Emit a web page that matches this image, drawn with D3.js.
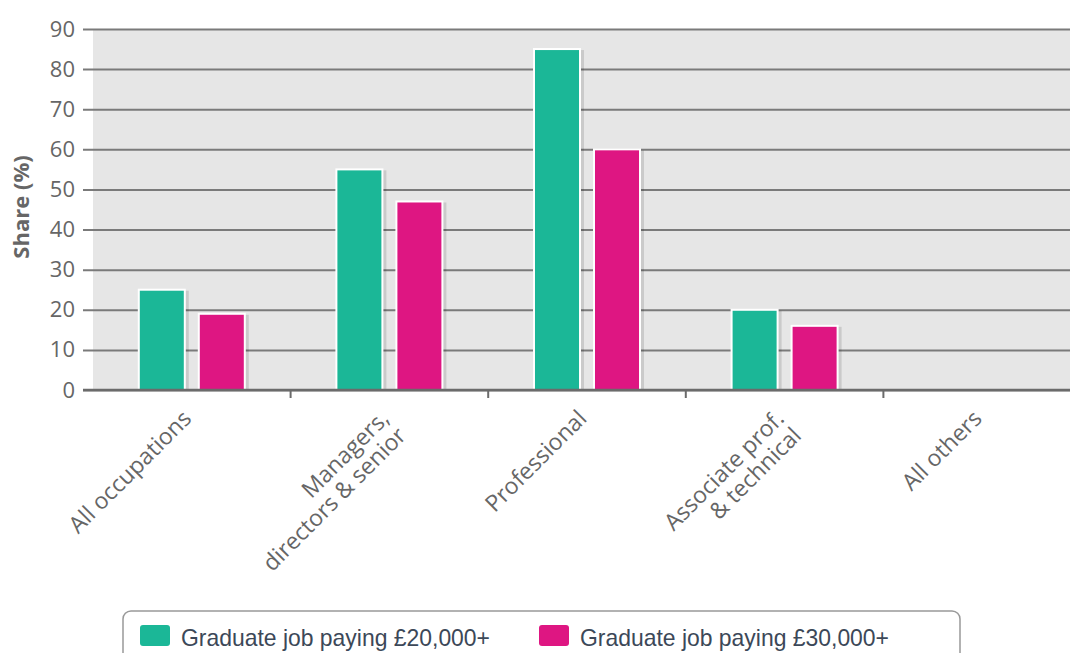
<!DOCTYPE html>
<html>
<head>
<meta charset="utf-8">
<script src="https://cdn.jsdelivr.net/npm/d3@7"></script>
<style>
  body { margin: 0; background: #fff; }
  svg { display: block; }
</style>
</head>
<body>
<div id="chart"></div>
<script>
// values
var categories = ["All occupations", "Managers,\ndirectors & senior", "Professional", "Associate prof.\n& technical", "All others"];
var seriesNames = ["Graduate job paying £20,000+", "Graduate job paying £30,000+"];
var paying20k = [25, 55, 85, 20, null];
var paying30k = [19, 47, 60, 16, null];
var yTicks = [0, 10, 20, 30, 40, 50, 60, 70, 80, 90];
var colors = ["#1bb797", "#de1682"];

var W = 1070, H = 653;
var plot = {left: 93, right: 1081, top: 29, bottom: 390};

var svg = d3.select("#chart").append("svg")
    .attr("width", W).attr("height", H);

var x = d3.scaleBand().domain(categories).range([plot.left, plot.right]);
var y = d3.scaleLinear().domain([0, 90]).range([plot.bottom, plot.top]);

// background
svg.append("rect")
    .attr("x", plot.left).attr("y", plot.top)
    .attr("width", W - plot.left).attr("height", plot.bottom - plot.top)
    .attr("fill", "#e6e6e6");

// gridlines + y labels
var yAxis = d3.axisLeft(y).tickValues(yTicks).tickSize(0).tickPadding(8);
var gy = svg.append("g")
    .attr("transform", "translate(" + (plot.left - 10) + ",0)")
    .call(yAxis);
gy.select(".domain").remove();
gy.selectAll(".tick line").attr("stroke", "#7a7a7a").attr("stroke-width", 2)
    .attr("x1", 0).attr("x2", W - plot.left + 10);
gy.selectAll(".tick text")
    .attr("fill", "#666")
    .style("font-size", "22px")
    .style("font-family", "'Open Sans', sans-serif");

svg.append("text")
    .attr("transform", "translate(29,207) rotate(-90)")
    .attr("text-anchor", "middle")
    .style("font-family", "'Open Sans', sans-serif")
    .style("font-weight", "bold").style("font-size", "22px").attr("fill", "#666")
    .text("Share (%)");

// bars
var series = [paying20k, paying30k];
var barW = 46, gap = 14;
series.forEach(function (vals, si) {
  var g = svg.append("g");
  var data = categories.map(function (c, i) { return {cat: c, v: vals[i]}; })
      .filter(function (d) { return d.v != null; });
  function bx(d) {
    return x(d.cat) + x.bandwidth() / 2 + (si === 0 ? -(barW + gap / 2) : gap / 2);
  }
  // shadow
  g.selectAll("rect.shadow").data(data).enter().append("rect")
      .attr("class", "shadow")
      .attr("x", function (d) { return bx(d) + 2; })
      .attr("y", function (d) { return y(d.v) + 1; })
      .attr("width", barW + 2)
      .attr("height", function (d) { return y(0) - y(d.v) - 1; })
      .attr("fill", "#000").attr("opacity", 0.12);
  g.selectAll("rect.bar").data(data).enter().append("rect")
      .attr("class", "bar")
      .attr("x", bx)
      .attr("y", function (d) { return y(d.v); })
      .attr("width", barW)
      .attr("height", function (d) { return y(0) - y(d.v); })
      .attr("fill", colors[si])
      .attr("stroke", "#fff").attr("stroke-width", 2);
});

// x axis
svg.append("line")
    .attr("x1", plot.left - 10).attr("x2", W)
    .attr("y1", plot.bottom).attr("y2", plot.bottom)
    .attr("stroke", "#6b6b6b").attr("stroke-width", 2.5);
svg.append("g").selectAll("line").data(categories.slice(1)).enter().append("line")
    .attr("x1", function (d) { return x(d); }).attr("x2", function (d) { return x(d); })
    .attr("y1", plot.bottom).attr("y2", plot.bottom + 8)
    .attr("stroke", "#6b6b6b").attr("stroke-width", 2);

var labels = svg.append("g").selectAll("text").data(categories).enter().append("text")
    .attr("transform", function (d) {
      return "translate(" + (x(d) + x.bandwidth() / 2 + 1) + "," + (plot.bottom + 30) + ") rotate(-45)";
    })
    .attr("text-anchor", "end")
    .style("font-family", "'Open Sans', sans-serif")
    .style("font-size", "23px").attr("fill", "#666");
labels.each(function (d) {
  var t = d3.select(this);
  d.split("\n").forEach(function (l, i) {
    t.append("tspan").attr("x", 0).attr("dy", i === 0 ? "0em" : "1.05em").text(l);
  });
});

// legend
var lg = svg.append("g");
lg.append("rect")
    .attr("x", 123).attr("y", 611).attr("width", 837).attr("height", 60)
    .attr("rx", 8).attr("fill", "#fff").attr("stroke", "#999").attr("stroke-width", 1.5);
var items = [{x: 140, tx: 181, tw: 309}, {x: 539, tx: 580, tw: 309}];
seriesNames.forEach(function (name, i) {
  lg.append("rect")
      .attr("x", items[i].x).attr("y", 625).attr("width", 30).attr("height", 21)
      .attr("rx", 3).attr("fill", colors[i]);
  lg.append("text")
      .attr("x", items[i].tx).attr("y", 646)
      .style("font-family", "'Liberation Sans', Arial, sans-serif")
      .style("font-size", "24px").attr("fill", "#3c4858")
      .attr("textLength", items[i].tw).attr("lengthAdjust", "spacingAndGlyphs")
      .text(name);
});
</script>
</body>
</html>
